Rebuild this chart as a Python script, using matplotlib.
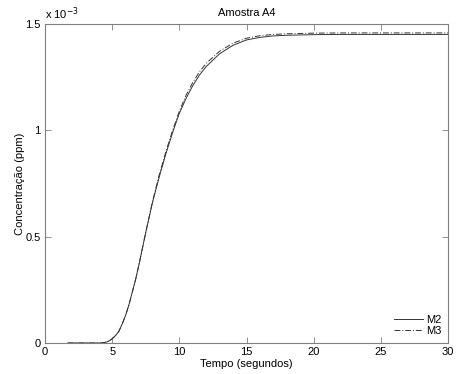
import matplotlib
matplotlib.use("Agg")
import matplotlib.pyplot as plt
from matplotlib.ticker import FuncFormatter

plt.rcParams['font.family'] = ['Liberation Sans', 'DejaVu Sans']

# Response curves (time in seconds, concentration in ppm)
t = [1.7, 3.0, 4.2, 4.4, 4.6, 4.8, 5.0, 5.25, 5.5, 5.75, 6.0, 6.25, 6.5,
     6.75, 7.0, 7.5, 8.0, 8.5, 9.0, 9.5, 10.0, 10.5, 11.0, 11.5, 12.0, 13.0,
     14.0, 15.0, 16.0, 17.0, 18.0, 20.0, 22.0, 25.0, 30.0]
m2 = [0.0, 0.0, 0.0, 0.002, 0.005, 0.011, 0.02, 0.035, 0.055, 0.09, 0.13,
      0.18, 0.24, 0.30, 0.37, 0.52, 0.66, 0.78, 0.89, 0.99, 1.08, 1.15, 1.21,
      1.26, 1.30, 1.36, 1.40, 1.425, 1.437, 1.444, 1.447, 1.450, 1.451, 1.451,
      1.451]
m3 = [0.0, 0.0, 0.0, 0.002, 0.005, 0.011, 0.02, 0.035, 0.055, 0.09, 0.13,
      0.18, 0.24, 0.30, 0.37, 0.52, 0.665, 0.79, 0.90, 1.00, 1.09, 1.165,
      1.225, 1.275, 1.315, 1.372, 1.41, 1.433, 1.445, 1.451, 1.454, 1.457,
      1.458, 1.458, 1.458]
m2 = [v * 1e-3 for v in m2]
m3 = [v * 1e-3 for v in m3]

x_ticks = [0, 5, 10, 15, 20, 25, 30]
y_ticks = [0, 0.5e-3, 1.0e-3, 1.5e-3]

fig = plt.figure(figsize=(4.61, 3.74), dpi=100)
ax = fig.add_axes([45 / 461, 31 / 374, 403 / 461, 319 / 374])

ax.plot(t, m2, color='#333333', lw=0.7, ls='-', label='M2')
ax.plot(t, m3, color='#333333', lw=0.7, ls=(0, (6, 2, 1, 2)), label='M3')

ax.set_xlim(0, 30)
ax.set_ylim(0, 1.5e-3)
ax.set_xticks(x_ticks)
ax.set_yticks(y_ticks)
ax.yaxis.set_major_formatter(FuncFormatter(lambda v, p: f"{v * 1e3:g}"))

axis_col = '#7f7f7f'
for s in ax.spines.values():
    s.set_color(axis_col)
    s.set_linewidth(0.8)
ax.tick_params(direction='in', length=4, width=0.6, color=axis_col,
               labelsize=8, top=True, right=True, pad=3)

ax.text(0.0, 1.005, r'x 10$^{-3}$', transform=ax.transAxes, fontsize=8,
        ha='left', va='bottom')

ax.set_title('Amostra A4', fontsize=8, pad=6)
ax.set_xlabel('Tempo (segundos)', fontsize=8, labelpad=1.5)
ax.set_ylabel('Concentração (ppm)', fontsize=8, labelpad=0)

leg = ax.legend(loc='lower right', frameon=False, fontsize=8,
                handlelength=2.6, handletextpad=0.3, labelspacing=0.1,
                borderaxespad=0.2)

fig.savefig('out.png', dpi=100)
